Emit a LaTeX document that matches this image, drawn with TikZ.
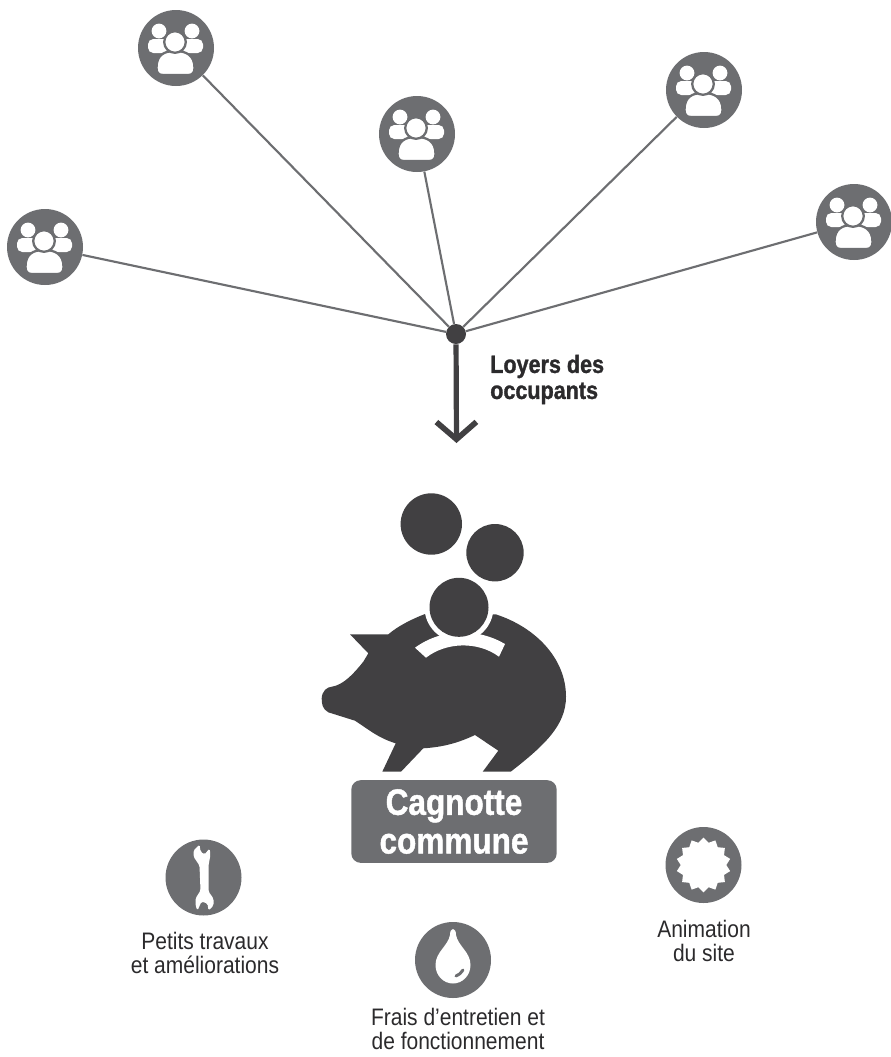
\documentclass[tikz,border=0pt]{standalone}
\usepackage{fontspec}
\usepackage{xcolor}
\usetikzlibrary{arrows.meta,shapes.geometric}
\newfontfamily\labfont[FakeStretch=0.88]{Liberation Sans}
\newfontfamily\headfont[FakeStretch=0.86,FakeBold=1.2]{Liberation Sans Bold}
\definecolor{dark}{HTML}{414042}
\definecolor{mid}{HTML}{6D6E71}
\definecolor{ink}{HTML}{2B2A2C}
\tikzset{
  disc/.style={circle, fill=mid, inner sep=0pt, minimum size=57pt},
  hub/.style={circle, fill=dark, inner sep=0pt, minimum size=15pt},
  spoke/.style={draw=mid, line width=1.6pt},
  flow/.style={draw=dark, line width=3.9pt, -{Straight Barb[length=13pt,width=30pt,line width=4.2pt]}},
  lab/.style={text=ink, font=\labfont\fontsize{17.9}{18}\selectfont, align=center, inner sep=0pt},
  labb/.style={text=ink, font=\headfont\fontsize{18.8}{19.5}\selectfont, align=left, inner sep=0pt},
  potbox/.style={fill=mid, rounded corners=7pt, text=white, align=center, inner sep=0pt,
    minimum width=154pt, minimum height=62pt, font=\headfont\fontsize{27.5}{29}\selectfont},
  coin/.style={fill=dark},
  sun/.style={star, star points=14, star point ratio=1.2, fill=white, inner sep=0pt, minimum size=41pt},
  groupicon/.pic={
    \fill[white, rounded corners=4pt] (-28,-9) -- (-28,5) -- (-6,5) -- (-6,-9) -- cycle;
    \fill[white, rounded corners=4pt] (5,-9) -- (5,5) -- (27,5) -- (27,-9) -- cycle;
    \fill[white] (-17,-17) circle (7.4);
    \fill[white] (16,-17) circle (7.4);
    \draw[mid, line width=1.7pt, fill=white] (-19.5,20) .. controls (-19.5,7) and (-12,3) .. (-1,3)
      .. controls (10,3) and (18.5,7) .. (18.5,20) .. controls (18.5,25) and (16,27) .. (12,27)
      -- (-13,27) .. controls (-17,27) and (-19.5,25) .. (-19.5,20) -- cycle;
    \draw[mid, line width=1.7pt, fill=white] (-1,-6) circle (10.8);
  },
  wrenchicon/.pic={
    \fill[white, rounded corners=1.2pt] (-4,-12) -- (-10,-21) -- (-10,-27) -- (-4,-33) -- (-3,-26) -- (1,-23) -- (6,-29)
      -- (7,-23) -- (5,-12) -- (5,14) -- (10,21) -- (10,28) -- (5,33) -- (4,26) -- (-2,24)
      -- (-6,33) -- (-8,28) -- (-8,21) -- (-3,13) -- cycle;
  },
  dropicon/.pic={
    \fill[white] (-3,-25) .. controls (-5,-14) and (-17.5,-8) .. (-17.5,5)
      .. controls (-17.5,16) and (-9,23.5) .. (0,23.5) .. controls (9,23.5) and (17.5,16) .. (17.5,5)
      .. controls (17.5,-8) and (5,-14) .. (3,-25) .. controls (3,-33) and (-3,-33) .. (-3,-25) -- cycle;
    \draw[mid, line width=2.2pt, line cap=round] (3,16) .. controls (6,15) and (8,13) .. (10,10);
  }
}
\begin{document}
\begin{tikzpicture}[x=0.75pt, y=-0.75pt, line cap=butt, line join=miter]
  \useasboundingbox (0,0) rectangle (890,1057);
  \node[hub] (H) at (456,334) {};
  \node[disc] (G1) at (45,247) {};
  \node[disc] (G2) at (176,48) {};
  \node[disc] (G3) at (417,134) {};
  \node[disc] (G4) at (704,90) {};
  \node[disc] (G5) at (854,222) {};
  \foreach \g in {G1,G2,G3,G4,G5} {
    \draw[spoke] (\g) -- (H);
    \pic at (\g) {groupicon};
  }
  \coordinate (F) at (456.5,443);
  \draw[flow] (H) -- (F);
  \node[labb, anchor=north west] (L) at (490,354.5) {Loyers des\\occupants};
  % coins and pig
  \fill[coin] (431.3,524) circle (30.7);
  \fill[coin] (495,552.7) circle (28.7);
  \fill[dark] (350,634.3) -- (388.3,634.3)
    .. controls (398,626) and (412,619) .. (425,614)
    -- (495.7,614.3)
    .. controls (535,627) and (566,658) .. (566,696.7)
    .. controls (566,725) and (545,745) .. (510.7,771.7)
    -- (482.7,771.7) -- (498.3,750.7) -- (475,735)
    .. controls (460,742) and (445,747) .. (423.3,748.3)
    -- (401,771.7) -- (382.3,771.7) -- (395.7,743.3)
    .. controls (378,738) and (368,729) .. (355,720.7)
    -- (328.3,712.3)
    .. controls (322,709) and (321.7,703) .. (321.7,698.3)
    .. controls (322,691) and (327,687) .. (331.7,686.7)
    .. controls (344,685) and (355,672) .. (363.3,661.7)
    -- (368.3,653.3) -- cycle;
  \fill[white] (459,607.3) circle (34.5);
  \fill[white] (415,647.7) .. controls (442,628) and (478,628) .. (505,644)
    -- (499,656.7) .. controls (478,641) and (446,642) .. (426,657.7) -- cycle;
  \fill[coin] (459,607.3) circle (29.5);
  \node[potbox] (P) at (454,821.5) {Cagnotte\\commune};
  % the three uses
  \node[disc] (W) at (203.5,877.5) {};
  \pic at (W) {wrenchicon};
  \node[disc] (D) at (453,960) {};
  \pic at (D) {dropicon};
  \node[disc] (A) at (703.5,865) {};
  \node[sun] (S) at (A) {};
  \node[lab] (T1) at (205,953) {Petits travaux\\et améliorations};
  \node[lab] (T2) at (458,1029) {Frais d’entretien et\\de fonctionnement};
  \node[lab] (T3) at (704,941) {Animation\\du site};
\end{tikzpicture}
\end{document}
